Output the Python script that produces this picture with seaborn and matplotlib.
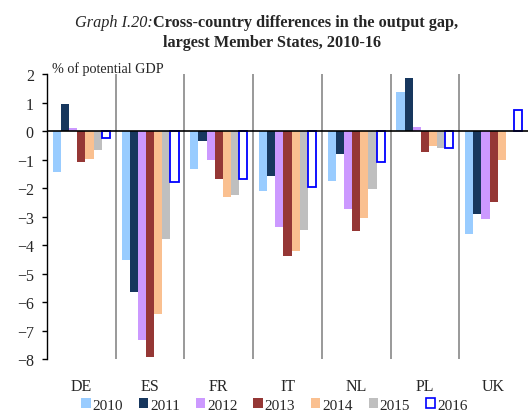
import matplotlib
matplotlib.use("Agg")
import matplotlib.pyplot as plt
import seaborn as sns
import pandas as pd
from matplotlib.patches import Patch

# Output gap, % of potential GDP
countries = ["DE", "ES", "FR", "IT", "NL", "PL", "UK"]
years = ["2010", "2011", "2012", "2013", "2014", "2015", "2016"]
gap_2010 = [-1.43, -4.54, -1.33, -2.12, -1.74, 1.36, -3.60]
gap_2011 = [0.95, -5.66, -0.34, -1.58, -0.82, 1.85, -2.90]
gap_2012 = [0.10, -7.33, -1.01, -3.37, -2.72, 0.15, -3.10]
gap_2013 = [-1.10, -7.93, -1.68, -4.37, -3.50, -0.72, -2.50]
gap_2014 = [-0.98, -6.42, -2.31, -4.21, -3.04, -0.53, -1.00]
gap_2015 = [-0.68, -3.80, -2.24, -3.46, -2.04, -0.60, 0.00]
gap_2016 = [-0.26, -1.80, -1.69, -1.98, -1.10, -0.60, 0.75]

colors = ["#99CCFF", "#17375E", "#CC99FF", "#953735", "#FAC090", "#BFBFBF", "#FFFFFF"]

series = [gap_2010, gap_2011, gap_2012, gap_2013, gap_2014, gap_2015, gap_2016]
rows = []
for yr, vals in zip(years, series):
    for c, v in zip(countries, vals):
        rows.append({"country": c, "year": yr, "gap": v})
df = pd.DataFrame(rows)

sns.set_theme(style="white")
plt.rcParams['font.family'] = ['Liberation Serif', 'DejaVu Serif']

fig = plt.figure(figsize=(5.28, 4.14), dpi=100)
ax = fig.add_axes([0.089, 0.1304, 0.911, 0.6884])

sns.barplot(data=df, x="country", y="gap", hue="year", order=countries,
            hue_order=years, palette=colors, width=0.83, saturation=1,
            linewidth=0, ax=ax, legend=False)

# 2016 drawn as hollow bars with blue edge
for bar in ax.containers[-1]:
    bar.set_facecolor("white")
    bar.set_edgecolor("#0000FF")
    bar.set_linewidth(1.3)

# Group separators and zero line
for xs in [0.5, 1.5, 2.5, 3.5, 4.5, 5.5]:
    ax.axvline(xs, color="#999999", lw=1.4, zorder=0)
ax.axhline(0, color="black", lw=1.2, zorder=3)

ax.set_ylim(-8, 2)
ax.set_xlim(-0.5, 6.5)
ax.set_yticks(range(-8, 3))
ax.set_xlabel("")
ax.set_ylabel("")
for s in ["top", "right", "bottom"]:
    ax.spines[s].set_visible(False)
ax.spines["left"].set_color("black")
ax.spines["left"].set_linewidth(1.0)
ax.tick_params(axis="y", left=True, direction="out", length=3.5, width=1,
               labelsize=11.5, pad=6, color="black")
ax.tick_params(axis="x", bottom=False, labelsize=11.5, pad=8)

ax.text(0.011, 0.998, "% of potential GDP", transform=ax.transAxes,
        fontsize=10.2, va="bottom", ha="left")

# Title: italic prefix + bold text
fig.text(153 / 528, 1 - 23 / 414, "Graph I.20:", style="italic",
         fontsize=11.7, ha="right", va="center")
fig.text(153 / 528, 1 - 23 / 414, "Cross-country differences in the output gap,",
         weight="bold", fontsize=11.7, ha="left", va="center")
fig.text(272 / 528, 1 - 43 / 414, "largest Member States, 2010-16",
         weight="bold", fontsize=11.7, ha="center", va="center")

handles = []
for yr, col in zip(years, colors):
    if yr == "2016":
        handles.append(Patch(facecolor="white", edgecolor="#0000FF", linewidth=1.2, label=yr))
    else:
        handles.append(Patch(facecolor=col, edgecolor="none", label=yr))
fig.legend(handles=handles, loc="center", bbox_to_anchor=(0.52, 1 - 406 / 414),
           ncol=7, frameon=False, fontsize=11, handlelength=0.6,
           handleheight=0.6, handletextpad=0.12, columnspacing=1.05)

fig.savefig("out.png", dpi=100)
